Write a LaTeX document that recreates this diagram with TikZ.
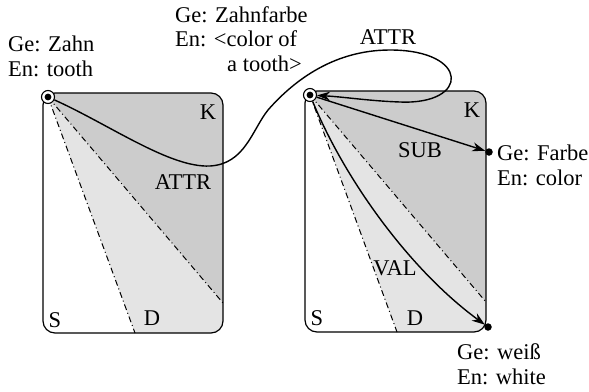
\documentclass[tikz,border=0pt]{standalone}
\usepackage{fontspec}
\setmainfont{Liberation Serif}
\usetikzlibrary{arrows.meta,calc}
\definecolor{DarkClr}{gray}{0.80}
\definecolor{LightClr}{gray}{0.895}

\begin{document}
\begin{tikzpicture}[x=1pt,y=-1pt,
    every node/.style={font=\fontsize{22.5}{24.5}\selectfont,inner sep=0pt},
    txt/.style={align=left,anchor=base west},
    apex/.style={circle,draw,line width=1.1pt,fill=white,minimum size=13pt},
    dot/.style={circle,fill=black,minimum size=7.5pt},
    ray/.style={line width=1pt,dash pattern=on 6pt off 3pt on 1pt off 3pt},
    frame/.style={line width=1.2pt,rounded corners=12pt},
    rel/.style={line width=1.4pt,-{Stealth[length=13pt,width=9pt]}}]
\useasboundingbox (0,0) rectangle (589,391);

% corner points of the two frames
\coordinate (L1) at (43,93);  \coordinate (L2) at (223,333);
\coordinate (R1) at (305,91); \coordinate (R2) at (486,332);
% ends of the two rays in each frame
\coordinate (LD) at (135,333); \coordinate (LK) at (223,303);
\coordinate (RD) at (397,332); \coordinate (RK) at (486,302);

% left frame
\begin{scope}
\clip[rounded corners=12pt] (L1) rectangle (L2);
\fill[DarkClr] (48,97) -- (LK) -- (240,303) -- (240,80) -- (30,80) -- cycle;
\fill[LightClr] (48,97) -- (LD) -- (240,345) -- (240,303) -- (LK) -- cycle;
\end{scope}
\draw[frame] (L1) rectangle (L2);
\draw[ray] (48,97) -- (LD);
\draw[ray] (48,97) -- (LK);

% right frame
\begin{scope}
\clip[rounded corners=12pt] (R1) rectangle (R2);
\fill[DarkClr] (310,95) -- (RK) -- (500,302) -- (500,80) -- (290,80) -- cycle;
\fill[LightClr] (310,95) -- (RD) -- (500,345) -- (500,302) -- (RK) -- cycle;
\end{scope}
\draw[frame] (R1) rectangle (R2);
\draw[ray] (310,95) -- (RD);
\draw[ray] (310,95) -- (RK);

\node[apex] (zahn) at (48,97) {};
\node[apex] (zfarbe) at (310,95) {};
\fill (zahn.center) circle (3.4pt);
\fill (zfarbe.center) circle (3.4pt);
\node[dot] (farbe) at (489,152) {};
\node[dot] (weiss) at (488,327) {};

% relations
\draw[rel] (zahn) .. controls (110,125) and (170,168) .. (210,166)
  .. controls (245,164) and (252,130) .. (268,110)
  .. controls (290,85) and (330,50) .. (390,50)
  .. controls (470,50) and (470,105) .. (400,102)
  .. controls (370,101) and (345,97) .. (zfarbe);
\draw[rel] (zfarbe) -- (farbe);
\draw[rel] (zfarbe) .. controls (345,180) and (410,270) .. (weiss);

% region and relation labels
\node (kL) at (208,112) {K};
\node (sL) at (55,320) {S};
\node (dL) at (152,318) {D};
\node (kR) at (472,110) {K};
\node (sR) at (317,318) {S};
\node (dR) at (415,318) {D};
\node (attrL) at (183,182) {ATTR};
\node (attrT) at (388,37) {ATTR};
\node (sub) at (420,150) {SUB};
\node (val) at (395,268) {VAL};

% word labels (anchored at the last line)
\node[txt] (tZahn) at (8,76) {Ge: Zahn\\En: tooth};
\node[txt] (tZfarbe) at (175,71) {Ge: Zahnfarbe\\En: <color of\\\hspace*{52pt}a tooth>};
\node[txt] (tFarbe) at (497,185) {Ge: Farbe\\En: color};
\node[txt] (tWeiss) at (457,384) {Ge: weiß\\En: white};
\end{tikzpicture}
\end{document}
